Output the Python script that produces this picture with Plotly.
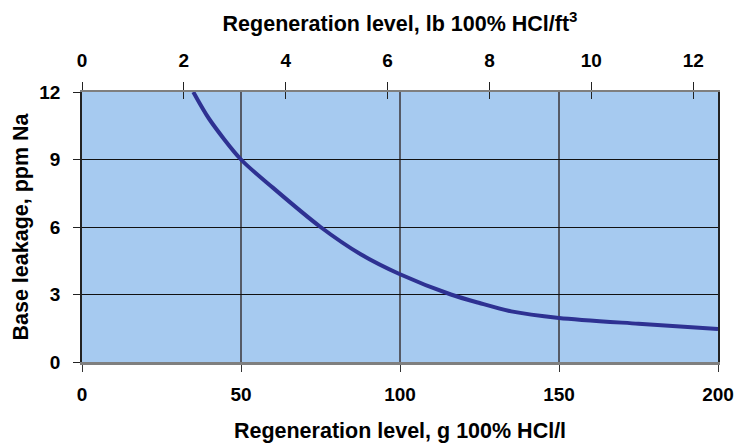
import plotly.graph_objects as go

# Data
regen_g_per_l = [35, 40, 50, 60, 75, 87.5, 100, 116, 125, 135, 150, 175, 200]
base_leakage_ppm = [12, 10.8, 9.0, 7.75, 6.0, 4.8, 3.9, 3.0, 2.62, 2.25, 1.96, 1.7, 1.47]

bottom_ticks = [0, 50, 100, 150, 200]
top_ticks = [0, 2, 4, 6, 8, 10, 12]
left_ticks = [0, 3, 6, 9, 12]

G_PER_L_PER_LB_FT3 = 16.018
x_max = 200
top_max = x_max / G_PER_L_PER_LB_FT3

FONT = "Liberation Sans"
tick_font = dict(family=FONT, size=19, color="black")
title_font = dict(family=FONT, size=21.5, color="black")

fig = go.Figure()
fig.add_trace(go.Scatter(
    x=regen_g_per_l, y=base_leakage_ppm, mode="lines",
    line=dict(color="#2E3192", width=4, shape="spline", smoothing=0.8),
    showlegend=False, hoverinfo="skip",
))
# invisible traces to activate the top axes
fig.add_trace(go.Scatter(x=[0, top_max], y=[None, None], xaxis="x2", showlegend=False, hoverinfo="skip"))
fig.add_trace(go.Scatter(x=[0, top_max], y=[None, None], xaxis="x3", showlegend=False, hoverinfo="skip"))

fig.update_layout(
    width=736, height=446,
    margin=dict(l=82, r=18, t=92, b=84),
    paper_bgcolor="white",
    plot_bgcolor="#A6CAF0",
    xaxis=dict(
        range=[0, x_max], tickvals=bottom_ticks,
        ticktext=["<b>%d</b>" % v for v in bottom_ticks],
        tickfont=tick_font, ticks="outside", ticklen=7, tickcolor="#333",
        ticklabelstandoff=6, automargin=False,
        showgrid=True, gridcolor="#555a66", gridwidth=1.5,
        showline=True, linecolor="#7f7f7f", linewidth=2.5,
        zeroline=False,
        title=dict(text="<b>Regeneration level, g 100% HCl/l</b>", font=title_font, standoff=20),
    ),
    xaxis2=dict(
        overlaying="x", side="top", range=[0, top_max], tickvals=top_ticks,
        ticktext=["<b>%d</b>" % v for v in top_ticks],
        tickfont=tick_font, ticks="outside", ticklen=8, tickcolor="#222",
        ticklabelstandoff=7, automargin=False,
        showgrid=False, showline=True, linecolor="#7f7f7f", linewidth=2,
        zeroline=False,
        title=dict(text="<b>Regeneration level, lb 100% HCl/ft<sup>3</sup></b>", font=title_font, standoff=13),
    ),
    xaxis3=dict(
        overlaying="x", side="top", range=[0, top_max], tickvals=top_ticks,
        showticklabels=False, ticks="inside", ticklen=7, tickcolor="#222",
        showgrid=False, showline=False, zeroline=False, automargin=False,
    ),
    yaxis=dict(
        range=[0, 12], tickvals=left_ticks,
        ticktext=["<b>%d</b>" % v for v in left_ticks],
        tickfont=tick_font, ticks="outside", ticklen=7, tickcolor="#222",
        ticklabelstandoff=9, automargin=False,
        showgrid=True, gridcolor="#111", gridwidth=1.2,
        showline=True, linecolor="#222", linewidth=1.5, mirror=True,
        zeroline=False,
        title=dict(text="<b>Base leakage, ppm Na</b>", font=title_font, standoff=5),
    ),
)

fig.write_html("out.html")
